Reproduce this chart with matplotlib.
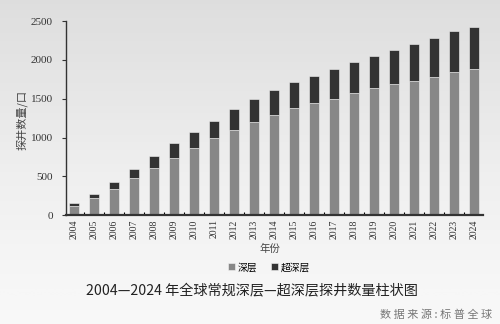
import matplotlib
matplotlib.use('Agg')
import matplotlib.pyplot as plt
import numpy as np

plt.rcParams['font.family'] = ['Liberation Serif', 'Noto Sans CJK SC', 'DejaVu Sans']

years = [str(y) for y in range(2004, 2025)]
# 深层 (deep) and total wells
deep = [120, 219, 338, 476, 605, 737, 862, 990, 1098, 1205, 1295, 1377,
        1442, 1501, 1574, 1634, 1690, 1733, 1776, 1848, 1883]
total = [154, 278, 425, 596, 759, 927, 1068, 1214, 1364, 1497, 1613, 1720,
         1797, 1879, 1973, 2046, 2127, 2205, 2278, 2376, 2428]
ultra = [t - d for t, d in zip(total, deep)]

fig = plt.figure(figsize=(5, 3.24), dpi=100)

# light gray gradient background
bg = fig.add_axes([0, 0, 1, 1], zorder=-10)
grad = np.linspace(1.0, 0.0, 256).reshape(-1, 1)
bg.imshow(grad, aspect='auto', cmap='Greys', vmin=-0.3, vmax=5.5, extent=[0, 1, 0, 1])
bg.axis('off')

ax = fig.add_axes([0.131, 0.3355, 0.835, 0.5995])
ax.patch.set_alpha(0)
x = np.arange(len(years))
ax.bar(x, deep, width=0.5, color='#878787', edgecolor='#f4f4f4', linewidth=0.4, label='深层')
ax.bar(x, ultra, width=0.5, bottom=deep, color='#333333', edgecolor='#f4f4f4', linewidth=0.4, label='超深层')

ax.set_xlim(-0.45, len(years) - 0.55)
ax.set_ylim(0, 2500)
ax.set_yticks([0, 500, 1000, 1500, 2000, 2500])
ax.tick_params(axis='y', labelsize=8, length=3, width=0.8, colors='#333333', pad=6)
ax.set_xticks(x)
ax.set_xticklabels(years, rotation=90, fontsize=7, color='#333333')
ax.tick_params(axis='x', length=0, pad=3)
ax.set_xticks(x[:-1] + 0.5, minor=True)
ax.tick_params(axis='x', which='minor', direction='in', length=2.5, width=0.8)
for s in ['top', 'right']:
    ax.spines[s].set_visible(False)
ax.spines['left'].set_linewidth(1.0)
ax.spines['bottom'].set_linewidth(1.6)
ax.spines['left'].set_color('#333333')
ax.spines['bottom'].set_color('#333333')

fig.text(0.044, 0.63, '探井数量/口', rotation=90, ha='center', va='center',
         fontsize=8, color='#444444', family=['Noto Sans CJK SC'])
fig.text(0.54, 0.232, '年份', ha='center', va='center', fontsize=7.5,
         color='#444444', family=['Noto Sans CJK SC'])

ax.legend(loc='center', bbox_to_anchor=(0.538, 0.175), bbox_transform=fig.transFigure,
          ncol=2, frameon=False, handlelength=0.7, handleheight=0.7,
          handletextpad=0.3, columnspacing=1.4, prop={'family': 'Noto Sans CJK SC', 'size': 7})

fig.text(0.503, 0.1, '2004—2024 年全球常规深层—超深层探井数量柱状图', ha='center', va='center',
         fontsize=10.2, color='#222222', family=['Noto Sans CJK SC'])
fig.text(0.985, 0.03, '数 据 来 源 : 标 普 全 球', ha='right', va='center', fontsize=8,
         color='#777777', family=['Noto Sans CJK SC'])

fig.savefig('out.png', dpi=100)
